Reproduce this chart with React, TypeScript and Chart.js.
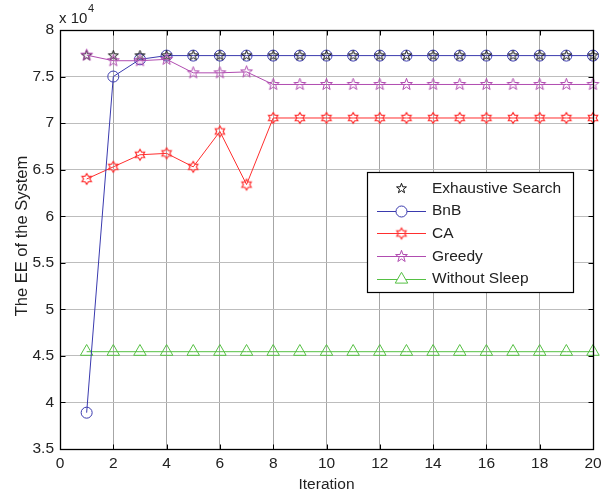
import React, { useEffect, useRef } from 'react';
import { Chart, registerables } from 'chart.js';

Chart.register(...registerables);

const iterations = [1, 2, 3, 4, 5, 6, 7, 8, 9, 10, 11, 12, 13, 14, 15, 16, 17, 18, 19, 20];
const exhaustiveSearch = [77250, 77250, 77250, 77250, 77250, 77250, 77250, 77250, 77250, 77250, 77250, 77250, 77250, 77250, 77250, 77250, 77250, 77250, 77250, 77250];
const bnb = [38900, 75000, 76850, 77250, 77250, 77250, 77250, 77250, 77250, 77250, 77250, 77250, 77250, 77250, 77250, 77250, 77250, 77250, 77250, 77250];
const ca = [64000, 65300, 66600, 66750, 65300, 69100, 63400, 70550, 70550, 70550, 70550, 70550, 70550, 70550, 70550, 70550, 70550, 70550, 70550, 70550];
const greedy = [77300, 76700, 76700, 76850, 75400, 75400, 75500, 74150, 74150, 74150, 74150, 74150, 74150, 74150, 74150, 74150, 74150, 74150, 74150, 74150];
const withoutSleep = [45450, 45450, 45450, 45450, 45450, 45450, 45450, 45450, 45450, 45450, 45450, 45450, 45450, 45450, 45450, 45450, 45450, 45450, 45450, 45450];
const seriesNames = ['Exhaustive Search', 'BnB', 'CA', 'Greedy', 'Without Sleep'];
const xTicks = [0, 2, 4, 6, 8, 10, 12, 14, 16, 18, 20];
const yTicks = [35000, 40000, 45000, 50000, 55000, 60000, 65000, 70000, 75000, 80000];

const FONT = '"Liberation Sans", Arial, Helvetica, sans-serif';
const COLORS = {
  exhaustive: '#111111',
  bnb: '#3a3aae',
  ca: '#ff2e2e',
  greedy: '#b04cb0',
  without: '#55c043',
};

function makeStarCanvas(n: number, outer: number, inner: number, color: string, lw: number) {
  const size = Math.ceil(2 * outer + 2 * lw + 2);
  const c = document.createElement('canvas');
  c.width = size;
  c.height = size;
  const ctx = c.getContext('2d')!;
  ctx.translate(size / 2, size / 2);
  ctx.beginPath();
  for (let i = 0; i < 2 * n; i++) {
    const r = i % 2 === 0 ? outer : inner;
    const a = -Math.PI / 2 + (i * Math.PI) / n;
    const px = r * Math.cos(a);
    const py = r * Math.sin(a);
    if (i === 0) ctx.moveTo(px, py);
    else ctx.lineTo(px, py);
  }
  ctx.closePath();
  ctx.strokeStyle = color;
  ctx.lineWidth = lw;
  ctx.stroke();
  return c;
}

function toPoints(arr: number[]) {
  return iterations.map((x, i) => ({ x, y: arr[i] }));
}

export default function App() {
  const ref = useRef<HTMLCanvasElement | null>(null);

  useEffect(() => {
    const canvas = ref.current;
    if (!canvas) return;

    const blackStar = makeStarCanvas(5, 5.2, 2.1, COLORS.exhaustive, 1);
    const purpleStar = makeStarCanvas(5, 6.2, 2.5, COLORS.greedy, 1);
    const redHex = makeStarCanvas(6, 5.4, 3.2, COLORS.ca, 1.2);

    const frameAndLegend = {
      id: 'frameAndLegend',
      afterDraw(chart: any) {
        const ctx = chart.ctx;
        const { left, right, top, bottom } = chart.chartArea;
        const xs = chart.scales.x;
        const ys = chart.scales.y;
        ctx.save();
        ctx.strokeStyle = '#000';
        ctx.lineWidth = 1;
        ctx.beginPath();
        const tl = 5;
        xTicks.forEach((t) => {
          const px = Math.round(xs.getPixelForValue(t)) + 0.5;
          ctx.moveTo(px, Math.round(bottom) + 0.5);
          ctx.lineTo(px, Math.round(bottom) + 0.5 - tl);
          ctx.moveTo(px, Math.round(top) + 0.5);
          ctx.lineTo(px, Math.round(top) + 0.5 + tl);
        });
        yTicks.forEach((t) => {
          const py = Math.round(ys.getPixelForValue(t)) + 0.5;
          ctx.moveTo(Math.round(left) + 0.5, py);
          ctx.lineTo(Math.round(left) + 0.5 + tl, py);
          ctx.moveTo(Math.round(right) + 0.5, py);
          ctx.lineTo(Math.round(right) + 0.5 - tl, py);
        });
        ctx.stroke();
        ctx.lineWidth = 1.3;
        ctx.strokeRect(Math.round(left) + 0.5, Math.round(top) + 0.5, Math.round(right) - Math.round(left), Math.round(bottom) - Math.round(top));

        ctx.fillStyle = '#222';
        ctx.textBaseline = 'alphabetic';
        ctx.textAlign = 'left';
        ctx.font = `15px ${FONT}`;
        ctx.fillText('x 10', 59, 22.5);
        ctx.font = `11px ${FONT}`;
        ctx.fillText('4', 88, 11.5);

        ctx.font = `15.5px ${FONT}`;
        ctx.textAlign = 'center';
        ctx.textBaseline = 'middle';
        ctx.fillText('Iteration', (left + right) / 2, 485);
        ctx.save();
        ctx.translate(22, 236);
        ctx.rotate(-Math.PI / 2);
        ctx.font = `16.5px ${FONT}`;
        ctx.fillText('The EE of the System', 0, 0);
        ctx.restore();

        const bx = 367.5, by = 172.5, bw = 206, bh = 120;
        ctx.fillStyle = '#fff';
        ctx.fillRect(bx, by, bw, bh);
        ctx.strokeStyle = '#000';
        ctx.lineWidth = 1.2;
        ctx.strokeRect(bx, by, bw, bh);
        const rowYs = [188, 210.7, 233.3, 256, 278.7];
        const lineColors = [null, COLORS.bnb, COLORS.ca, COLORS.greedy, COLORS.without];
        const mx = 401.5;
        rowYs.forEach((ry, i) => {
          const lc = lineColors[i];
          const cy = Math.round(ry) + 0.5;
          if (lc) {
            ctx.strokeStyle = lc;
            ctx.lineWidth = 1;
            ctx.beginPath();
            ctx.moveTo(377, cy);
            ctx.lineTo(426, cy);
            ctx.stroke();
          }
          if (i === 0) ctx.drawImage(blackStar, mx - blackStar.width / 2, cy - blackStar.height / 2);
          if (i === 1) {
            ctx.strokeStyle = COLORS.bnb;
            ctx.fillStyle = '#fff';
            ctx.beginPath();
            ctx.arc(mx, cy, 5.5, 0, Math.PI * 2);
            ctx.fill();
            ctx.stroke();
          }
          if (i === 2) ctx.drawImage(redHex, mx - redHex.width / 2, cy - redHex.height / 2);
          if (i === 3) ctx.drawImage(purpleStar, mx - purpleStar.width / 2, cy - purpleStar.height / 2);
          if (i === 4) {
            ctx.strokeStyle = COLORS.without;
            ctx.fillStyle = '#fff';
            const r = 7.2;
            ctx.beginPath();
            ctx.moveTo(mx, cy - r);
            ctx.lineTo(mx + r * Math.sin(Math.PI / 3), cy + r * 0.5);
            ctx.lineTo(mx - r * Math.sin(Math.PI / 3), cy + r * 0.5);
            ctx.closePath();
            ctx.fill();
            ctx.stroke();
          }
          ctx.fillStyle = '#222';
          ctx.font = `15.5px ${FONT}`;
          ctx.textAlign = 'left';
          ctx.textBaseline = 'middle';
          ctx.fillText(seriesNames[i], 432, ry + 0.5);
        });
        ctx.restore();
      },
    };

    const chart = new Chart(canvas, {
      type: 'line',
      data: {
        datasets: [
          {
            label: seriesNames[0],
            data: toPoints(exhaustiveSearch),
            showLine: false,
            borderColor: COLORS.exhaustive,
            pointStyle: blackStar as any,
            pointRadius: 5,
            clip: false,
            order: 1,
          },
          {
            label: seriesNames[1],
            data: toPoints(bnb),
            borderColor: COLORS.bnb,
            borderWidth: 1,
            pointStyle: 'circle',
            pointRadius: 5.5,
            pointBorderWidth: 1,
            pointBorderColor: COLORS.bnb,
            pointBackgroundColor: 'rgba(0,0,0,0)',
            clip: false,
            order: 2,
          },
          {
            label: seriesNames[2],
            data: toPoints(ca),
            borderColor: COLORS.ca,
            borderWidth: 1,
            pointStyle: redHex as any,
            pointRadius: 6,
            clip: false,
            order: 3,
          },
          {
            label: seriesNames[3],
            data: toPoints(greedy),
            borderColor: COLORS.greedy,
            borderWidth: 1,
            pointStyle: purpleStar as any,
            pointRadius: 6,
            clip: false,
            order: 0,
          },
          {
            label: seriesNames[4],
            data: toPoints(withoutSleep),
            borderColor: COLORS.without,
            borderWidth: 1,
            pointStyle: 'triangle',
            pointRadius: 7.2,
            pointBorderWidth: 1,
            pointBorderColor: COLORS.without,
            pointBackgroundColor: 'rgba(0,0,0,0)',
            clip: false,
            order: 4,
          },
        ],
      },
      options: {
        animation: false,
        responsive: false,
        events: [],
        layout: { padding: { top: 30, right: 23, left: 0, bottom: 0 } },
        plugins: { legend: { display: false }, tooltip: { enabled: false } },
        scales: {
          x: {
            type: 'linear',
            min: 0,
            max: 20,
            afterFit: (s: any) => { s.height = 45; },
            afterBuildTicks: (s: any) => { s.ticks = xTicks.map((v) => ({ value: v })); },
            grid: { color: '#a6a6a6', lineWidth: 1, drawTicks: false },
            border: { display: false },
            ticks: {
              padding: 5,
              color: '#222',
              font: { family: FONT, size: 15.5 },
              maxRotation: 0,
              autoSkip: false,
            },
          },
          y: {
            type: 'linear',
            min: 35000,
            max: 80000,
            afterFit: (s: any) => { s.width = 60; },
            afterBuildTicks: (s: any) => { s.ticks = yTicks.map((v) => ({ value: v })); },
            grid: { color: '#bdbdbd', lineWidth: 1, drawTicks: false },
            border: { display: false },
            ticks: {
              padding: 6,
              color: '#222',
              font: { family: FONT, size: 15.5 },
              autoSkip: false,
              callback: (v: any) => String(Number(v) / 10000),
            },
          },
        },
      },
      plugins: [frameAndLegend],
    });
    return () => chart.destroy();
  }, []);

  return (
    <div style={{ position: 'fixed', left: 0, top: 0, width: 616, height: 494, background: '#fff' }}>
      <canvas ref={ref} width={616} height={494} style={{ display: 'block', width: 616, height: 494 }} />
    </div>
  );
}
